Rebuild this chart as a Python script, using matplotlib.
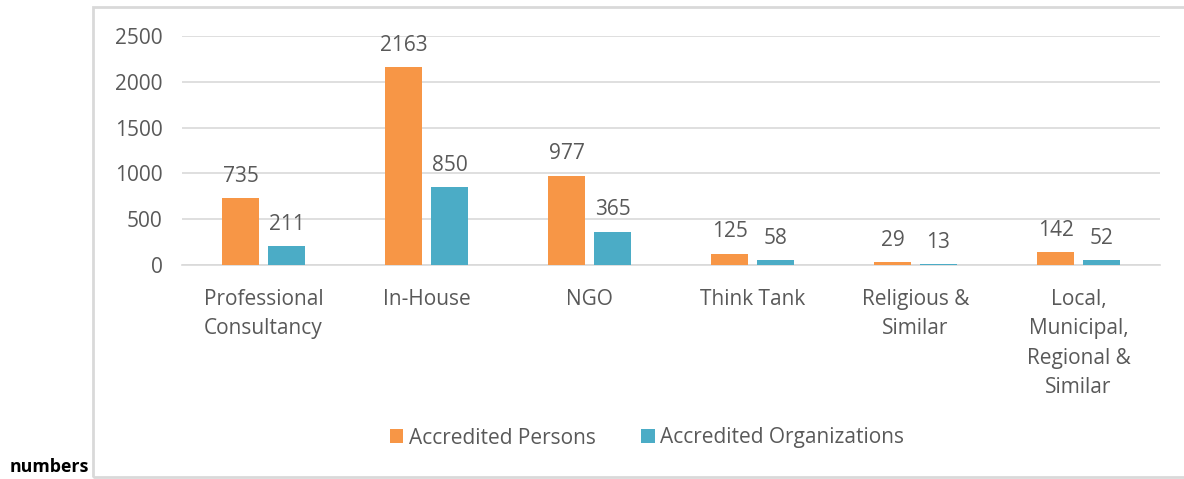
import numpy as np
import matplotlib
matplotlib.use('Agg')
import matplotlib.pyplot as plt

categories = ['Professional\nConsultancy', 'In-House', 'NGO', 'Think Tank',
              'Religious &\nSimilar', 'Local,\nMunicipal,\nRegional &\nSimilar']
persons = [735, 2163, 977, 125, 29, 142]
organizations = [211, 850, 365, 58, 13, 52]

orange = '#F79646'
teal = '#4BACC6'
txt = '#595959'
grid = '#D9D9D9'

plt.rcParams['font.family'] = ['Open Sans', 'DejaVu Sans']

fig = plt.figure(figsize=(11.84, 4.79), dpi=100)

# outer chart frame
frame = plt.Rectangle((93/1184, 2/479), 1.2, 1-9/479, transform=fig.transFigure,
                      fill=False, edgecolor='#D9D9D9', linewidth=2)
fig.patches.append(frame)
fig.text(10/1184, 1-472/479, 'numbers', fontsize=12.8, fontweight='bold', color='black',
         va='baseline', ha='left')

ax = fig.add_axes([182/1184, 1-265/479, (1160-182)/1184, (265-36)/479])
x = np.arange(len(categories))
w = 0.227
off = 0.141
b1 = ax.bar(x - off, persons, w, color=orange, label='Accredited Persons', zorder=3)
b2 = ax.bar(x + off, organizations, w, color=teal, label='Accredited Organizations', zorder=3)

for bars, vals in ((b1, persons), (b2, organizations)):
    for r, v in zip(bars, vals):
        ax.annotate(str(v), (r.get_x() + r.get_width()/2, r.get_height()),
                    xytext=(0, 8), textcoords='offset points', ha='center', va='bottom',
                    fontsize=15, color=txt)

ax.set_xlim(-0.5, len(categories) - 0.5)
ax.set_ylim(0, 2500)
ax.set_yticks(np.arange(0, 2501, 500))
ax.set_xticks(x)
ax.set_xticklabels(categories, fontsize=15, color=txt, linespacing=1.53)
ax.tick_params(axis='y', labelsize=15, labelcolor=txt, length=0, pad=14)
ax.tick_params(axis='x', length=0, pad=17)
ax.yaxis.grid(True, color=grid, linewidth=1.2, zorder=0)
for s in ['top', 'right', 'left']:
    ax.spines[s].set_visible(False)
ax.spines['bottom'].set_color(grid)
ax.spines['bottom'].set_linewidth(1.2)

leg = fig.legend(handles=[b1, b2], loc='center', bbox_to_anchor=(647/1184, 1-438/479),
                 ncol=2, frameon=False, fontsize=15, handlelength=0.65, handleheight=0.65,
                 handletextpad=0.25, columnspacing=2.2)
for t in leg.get_texts():
    t.set_color(txt)

fig.savefig('out.png', dpi=100)
